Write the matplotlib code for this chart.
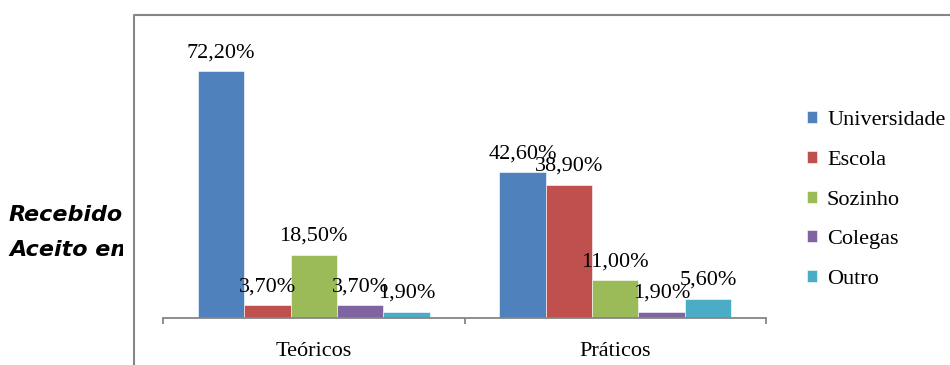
import matplotlib
matplotlib.use("Agg")
import matplotlib.pyplot as plt
from matplotlib.lines import Line2D
from matplotlib.patches import Rectangle
import numpy as np

categories = ["Teóricos", "Práticos"]
series_names = ["Universidade", "Escola", "Sozinho", "Colegas", "Outro"]
universidade = [72.2, 42.6]
escola = [3.7, 38.9]
sozinho = [18.5, 11.0]
colegas = [3.7, 1.9]
outro = [1.9, 5.6]
series_values = [universidade, escola, sozinho, colegas, outro]
colors = ["#4F81BD", "#C0504D", "#9BBB59", "#8064A2", "#4BACC6"]

W, H = 950, 365
fig = plt.figure(figsize=(W / 100, H / 100), dpi=100)
fig.patch.set_facecolor("white")

serif = ["Liberation Serif", "DejaVu Serif"]
fs = 16

# axes placement (pixels)
ax_left, ax_right, ax_base = 163, 766, 318
px_per_unit = 247 / 72.2
ymax = 80
ax_h = ymax * px_per_unit
ax = fig.add_axes([ax_left / W, (H - ax_base) / H, (ax_right - ax_left) / W, ax_h / H])

x = np.arange(len(categories))
bw = 46.4 / 302
for i, (name, vals, c) in enumerate(zip(series_names, series_values, colors)):
    pos = x + (i - 2) * bw
    bars = ax.bar(pos, vals, width=bw, color=c, label=name,
                  edgecolor="#ffffff", linewidth=0.4, zorder=2)
    for b, v in zip(bars, vals):
        ax.annotate(f"{v:.2f}%".replace(".", ","),
                    (b.get_x() + b.get_width() / 2, b.get_height()),
                    xytext=(0, 10), textcoords="offset points",
                    ha="center", va="baseline", fontsize=fs, family=serif,
                    color="#000000", zorder=3)

ax.set_xlim(-0.5, 1.5)
ax.set_ylim(0, ymax)
for s in ["top", "left", "right"]:
    ax.spines[s].set_visible(False)
ax.spines["bottom"].set_color("#868686")
ax.spines["bottom"].set_linewidth(1.3)
ax.set_yticks([])
ax.set_xticks([-0.5, 0.5, 1.5])
ax.set_xticklabels(["", "", ""])
ax.set_xticks(x, minor=True)
ax.set_xticklabels(categories, minor=True, fontsize=fs, family=serif)
ax.tick_params(axis="x", which="major", direction="out", length=4.3,
               color="#868686", width=1.3)
ax.tick_params(axis="x", which="minor", length=0, pad=17)
ax.patch.set_alpha(0)

leg = ax.legend(loc="upper left", bbox_to_anchor=(807 / W, (H - 111) / H),
                bbox_transform=fig.transFigure, frameon=False,
                prop={"family": serif, "size": fs},
                handlelength=0.45, handleheight=0.45, handletextpad=0.45,
                labelspacing=0.935, borderaxespad=0, borderpad=0)

# left text, partially hidden
sans = ["DejaVu Sans"]
fig.text(9 / W, (H - 221) / H, "Recebido", fontsize=16, fontweight="bold",
         fontstyle="oblique", family=sans, va="baseline", ha="left", zorder=1)
fig.text(9 / W, (H - 256) / H, "Aceito em", fontsize=16, fontweight="bold",
         fontstyle="oblique", family=sans, va="baseline", ha="left", zorder=1)
fig.patches.append(Rectangle((123 / W, 0), (160 - 123) / W, 1,
                             transform=fig.transFigure, facecolor="white",
                             edgecolor="none", zorder=4))

# chart frame (left and top edges)
fx, fy = 134, 15
fig.lines.append(Line2D([fx / W, fx / W, 1.0], [0, (H - fy) / H, (H - fy) / H],
                        transform=fig.transFigure, color="#868686",
                        linewidth=1.5, zorder=5))

fig.savefig("out.png", dpi=100)
